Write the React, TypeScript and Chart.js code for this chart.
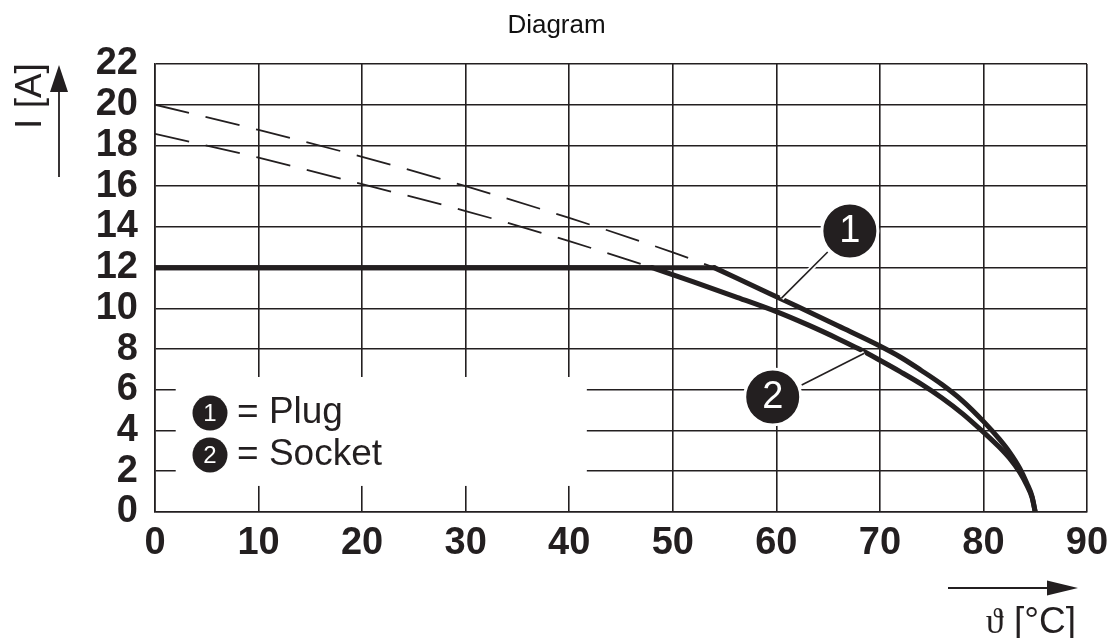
import React, { useEffect, useRef } from "react";
import { Chart, registerables } from "chart.js";

Chart.register(...registerables);

const INK = "#231f20";
const SANS = "'Liberation Sans', Arial, Helvetica, sans-serif";
const SERIF = "'Liberation Serif', 'DejaVu Serif', serif";

// axes
const xMin = 0;
const xMax = 90;
const xStep = 10;
const yMin = 0;
const yMax = 22;
const yStep = 2;

// texts
const titleText = "Diagram";
const yAxisText = "I [A]";
const xAxisSymbol = "ϑ";
const xAxisUnit = " [°C]";

// flat (12 A) parts
const flatCurrent = 12;
const plugFlatT = [0, 54];
const socketFlatT = [0, 48];

// derating curves
const plugCurveT = [54, 58, 62, 66, 70, 72, 74, 76, 78, 80, 81.5, 82.5, 83.5, 84.2, 84.7, 85];
const plugCurveI = [12, 11.05, 10.1, 9.13, 8.15, 7.6, 6.95, 6.26, 5.45, 4.45, 3.6, 2.95, 2.15, 1.4, 0.75, 0];
const socketCurveT = [48, 52, 56, 60, 63, 66, 68, 70, 72, 74, 76, 78, 80, 81.5, 82.5, 83.5, 84.2, 84.7, 85];
const socketCurveI = [12, 11.3, 10.58, 9.84, 9.2, 8.5, 8.0, 7.45, 6.88, 6.28, 5.6, 4.82, 3.92, 3.2, 2.65, 1.95, 1.3, 0.7, 0];

// dashed extensions
const plugDashT = [0, 10, 20, 30, 40, 50, 54];
const plugDashI = [20, 18.76, 17.44, 16.0, 14.44, 12.75, 12];
const socketDashT = [0, 10, 20, 30, 40, 48];
const socketDashI = [18.57, 17.4, 16.1, 14.78, 13.3, 12];

// numbered markers on curves
const markerLabels = ["1", "2"];
const markerT = [67.1, 59.65];
const markerI = [13.8, 5.65];
const leaderFromT = [64.96, 62.45];
const leaderFromI = [12.77, 6.24];
const leaderToT = [60.5, 68.5];
const leaderToI = [10.5, 7.8];

// legend
const legendLabels = ["= Plug", "= Socket"];
const legendT = [5.31, 5.31];
const legendI = [4.86, 2.8];
const legendBoxT = [2.0, 41.7];
const legendBoxI = [1.28, 6.63];

const pts = (t: number[], i: number[]) => t.map((v, k) => ({ x: v, y: i[k] }));

export default function App() {
  const ref = useRef<HTMLCanvasElement | null>(null);

  useEffect(() => {
    if (!ref.current) return;

    const annot = {
      id: "annot",
      beforeDatasetsDraw(chart: any) {
        const { ctx, scales } = chart;
        const x = scales.x;
        const y = scales.y;
        const l = x.getPixelForValue(legendBoxT[0]);
        const r = x.getPixelForValue(legendBoxT[1]);
        const t = y.getPixelForValue(legendBoxI[1]);
        const b = y.getPixelForValue(legendBoxI[0]);
        ctx.save();
        ctx.fillStyle = "#ffffff";
        ctx.fillRect(l, t, r - l, b - t);
        ctx.restore();
      },
      afterDatasetsDraw(chart: any) {
        const { ctx, scales, chartArea } = chart;
        const x = scales.x;
        const y = scales.y;
        ctx.save();

        // leader lines
        for (let k = 0; k < markerLabels.length; k++) {
          const x1 = x.getPixelForValue(leaderFromT[k]);
          const y1 = y.getPixelForValue(leaderFromI[k]);
          const x2 = x.getPixelForValue(leaderToT[k]);
          const y2 = y.getPixelForValue(leaderToI[k]);
          ctx.beginPath();
          ctx.moveTo(x1, y1);
          ctx.lineTo(x2, y2);
          ctx.strokeStyle = "#ffffff";
          ctx.lineWidth = 5;
          ctx.stroke();
          ctx.strokeStyle = INK;
          ctx.lineWidth = 1.6;
          ctx.stroke();
        }

        // numbered circles
        for (let k = 0; k < markerLabels.length; k++) {
          const cx = x.getPixelForValue(markerT[k]);
          const cy = y.getPixelForValue(markerI[k]);
          ctx.beginPath();
          ctx.arc(cx, cy, 28, 0, Math.PI * 2);
          ctx.fillStyle = INK;
          ctx.fill();
          ctx.strokeStyle = "#ffffff";
          ctx.lineWidth = 3;
          ctx.stroke();
          ctx.fillStyle = "#ffffff";
          ctx.font = `38px ${SANS}`;
          ctx.textAlign = "center";
          ctx.textBaseline = "middle";
          ctx.fillText(markerLabels[k], cx, cy + 1);
        }

        // legend
        for (let k = 0; k < legendLabels.length; k++) {
          const cx = x.getPixelForValue(legendT[k]);
          const cy = y.getPixelForValue(legendI[k]);
          ctx.beginPath();
          ctx.arc(cx, cy, 17.5, 0, Math.PI * 2);
          ctx.fillStyle = INK;
          ctx.fill();
          ctx.fillStyle = "#ffffff";
          ctx.font = `24px ${SANS}`;
          ctx.textAlign = "center";
          ctx.textBaseline = "middle";
          ctx.fillText(String(k + 1), cx, cy + 1);
          ctx.fillStyle = INK;
          ctx.font = `37px ${SANS}`;
          ctx.textAlign = "left";
          ctx.fillText(legendLabels[k], cx + 27, cy);
        }

        // title
        ctx.fillStyle = "#111111";
        ctx.font = `26px ${SANS}`;
        ctx.textAlign = "center";
        ctx.textBaseline = "alphabetic";
        ctx.fillText(titleText, chart.width / 2 + 1, 33);

        // y axis label + arrow
        const ax = chartArea.left - 96;
        ctx.fillStyle = INK;
        ctx.strokeStyle = INK;
        ctx.lineWidth = 1.8;
        ctx.beginPath();
        ctx.moveTo(ax, chartArea.top + 113);
        ctx.lineTo(ax, chartArea.top + 25);
        ctx.stroke();
        ctx.beginPath();
        ctx.moveTo(ax, chartArea.top + 1);
        ctx.lineTo(ax - 9, chartArea.top + 28);
        ctx.lineTo(ax + 9, chartArea.top + 28);
        ctx.closePath();
        ctx.fill();

        ctx.save();
        ctx.translate(chartArea.left - 124, chartArea.top + 32);
        ctx.rotate(-Math.PI / 2);
        ctx.font = `37px ${SANS}`;
        ctx.textAlign = "center";
        ctx.textBaseline = "middle";
        ctx.fillText(yAxisText, 0, 0);
        ctx.restore();

        // x axis arrow + label
        const ay = chartArea.bottom + 76;
        const right = chartArea.right;
        ctx.beginPath();
        ctx.moveTo(right - 139, ay);
        ctx.lineTo(right - 35, ay);
        ctx.stroke();
        ctx.beginPath();
        ctx.moveTo(right - 9, ay);
        ctx.lineTo(right - 40, ay - 7.5);
        ctx.lineTo(right - 40, ay + 7.5);
        ctx.closePath();
        ctx.fill();

        ctx.font = `37px ${SANS}`;
        ctx.textBaseline = "alphabetic";
        ctx.textAlign = "right";
        const unitRight = right - 11;
        ctx.fillText(xAxisUnit, unitRight, chartArea.bottom + 121);
        const uw = ctx.measureText(xAxisUnit).width;
        ctx.font = `36px ${SERIF}`;
        ctx.fillText(xAxisSymbol, unitRight - uw, chartArea.bottom + 121);

        ctx.restore();
      },
    };

    const thick = {
      borderColor: INK,
      borderWidth: 5,
      pointRadius: 0,
      fill: false,
      borderCapStyle: "round" as const,
      borderJoinStyle: "round" as const,
    };
    const dashed = {
      borderColor: INK,
      borderWidth: 1.8,
      pointRadius: 0,
      fill: false,
      borderDash: [35, 17],
      borderCapStyle: "butt" as const,
    };

    const chart = new Chart(ref.current, {
      type: "line",
      data: {
        datasets: [
          { ...dashed, data: pts(plugDashT, plugDashI), cubicInterpolationMode: "monotone" },
          { ...dashed, data: pts(socketDashT, socketDashI), cubicInterpolationMode: "monotone" },
          { ...thick, data: pts(plugFlatT, plugFlatT.map(() => flatCurrent)) },
          { ...thick, data: pts(socketFlatT, socketFlatT.map(() => flatCurrent)) },
          { ...thick, data: pts(plugCurveT, plugCurveI), cubicInterpolationMode: "monotone" },
          { ...thick, data: pts(socketCurveT, socketCurveI), cubicInterpolationMode: "monotone" },
        ] as any,
      },
      options: {
        animation: false,
        responsive: true,
        maintainAspectRatio: false,
        layout: { padding: { left: 0, top: 64, right: 24, bottom: 0 } },
        plugins: {
          legend: { display: false },
          title: { display: false },
          tooltip: { enabled: false },
        },
        events: [],
        scales: {
          x: {
            type: "linear",
            min: xMin,
            max: xMax,
            afterFit: (s: any) => {
              s.height = 126;
              s.paddingLeft = 0;
              s.paddingRight = 0;
            },
            ticks: {
              stepSize: xStep,
              autoSkip: false,
              color: INK,
              padding: 9,
              maxRotation: 0,
              font: { family: SANS, size: 38, weight: "bold" },
            },
            grid: { color: INK, lineWidth: 1.6, drawTicks: false },
            border: { color: INK, width: 1.6 },
          },
          y: {
            type: "linear",
            min: yMin,
            max: yMax,
            afterFit: (s: any) => {
              s.width = 155;
              s.paddingTop = 0;
              s.paddingBottom = 0;
            },
            ticks: {
              stepSize: yStep,
              autoSkip: false,
              color: INK,
              padding: 17,
              font: { family: SANS, size: 38, weight: "bold" },
            },
            grid: { color: INK, lineWidth: 1.6, drawTicks: false },
            border: { color: INK, width: 1.6 },
          },
        },
      },
      plugins: [annot],
    });

    return () => chart.destroy();
  }, []);

  return (
    <div style={{ position: "fixed", left: 0, top: 0, width: 1111, height: 638, background: "#fff" }}>
      <canvas ref={ref} />
    </div>
  );
}
